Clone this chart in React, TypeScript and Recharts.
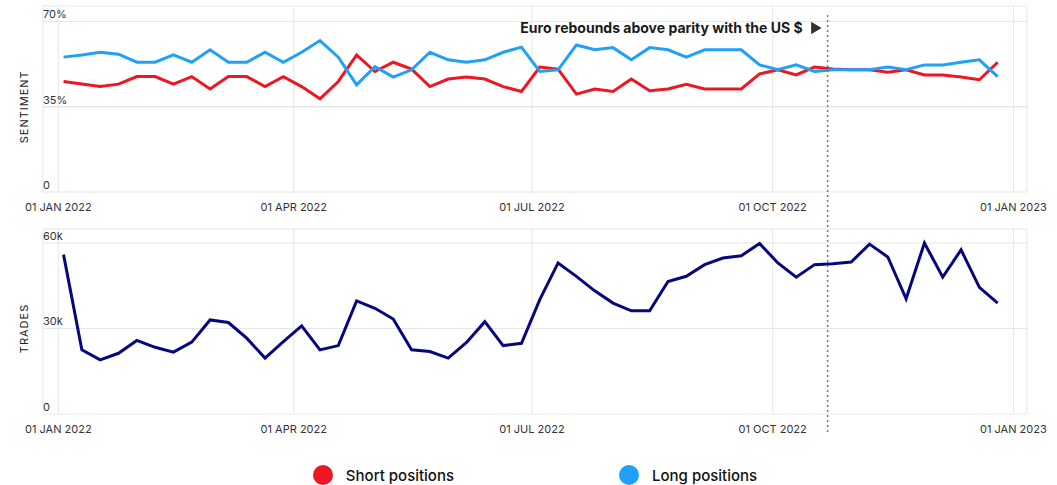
import React from 'react'
import { LineChart, Line, XAxis, YAxis, CartesianGrid, ReferenceLine } from 'recharts'

// weekly observations (Mondays)
const weeks = [
  '2022-01-03', '2022-01-10', '2022-01-17', '2022-01-24', '2022-01-31',
  '2022-02-07', '2022-02-14', '2022-02-21', '2022-02-28',
  '2022-03-07', '2022-03-14', '2022-03-21', '2022-03-28',
  '2022-04-04', '2022-04-11', '2022-04-18', '2022-04-25',
  '2022-05-02', '2022-05-09', '2022-05-16', '2022-05-23', '2022-05-30',
  '2022-06-06', '2022-06-13', '2022-06-20', '2022-06-27',
  '2022-07-04', '2022-07-11', '2022-07-18', '2022-07-25',
  '2022-08-01', '2022-08-08', '2022-08-15', '2022-08-22', '2022-08-29',
  '2022-09-05', '2022-09-12', '2022-09-19', '2022-09-26',
  '2022-10-03', '2022-10-10', '2022-10-17', '2022-10-24', '2022-10-31',
  '2022-11-07', '2022-11-14', '2022-11-21', '2022-11-28',
  '2022-12-05', '2022-12-12', '2022-12-19', '2022-12-26',
]

// % of clients
const shortPositions = [
  45.4, 44.4, 43.3, 44.3, 47.4, 47.4, 44.3, 47.4, 42.3, 47.4, 47.4, 43.3, 47.4,
  43.3, 38.3, 45.4, 56.3, 49.5, 53.3, 50.5, 43.3, 46.4, 47.2, 46.4, 43.3, 41.3,
  51.3, 50.5, 40.2, 42.3, 41.3, 46.4, 41.6, 42.3, 44.2, 42.3, 42.3, 42.3, 48.5,
  50.2, 48.1, 51.3, 50.5, 50.2, 50.2, 49.2, 50.2, 48.1, 48.1, 47.2, 46.1, 53.3,
]
const longPositions = [
  55.4, 56.3, 57.4, 56.6, 53.3, 53.3, 56.3, 53.3, 58.4, 53.3, 53.3, 57.4, 53.3,
  57.4, 62.2, 55.4, 44.0, 51.5, 47.2, 50.2, 57.4, 54.3, 53.3, 54.3, 57.4, 59.5,
  49.5, 50.2, 60.4, 58.4, 59.3, 54.3, 59.3, 58.4, 55.4, 58.4, 58.4, 58.4, 52.2,
  50.2, 52.2, 49.5, 50.2, 50.2, 50.2, 51.3, 50.2, 52.2, 52.2, 53.3, 54.3, 47.4,
]
const trades = [
  55900, 22500, 19000, 21300, 25800, 23400, 21700, 25200, 33000, 32100, 26600,
  19600, 25400, 30900, 22500, 24000, 39700, 37100, 33300, 22500, 21900, 19600,
  25100, 32400, 24000, 24800, 40100, 53000, 48300, 43200, 38900, 36200, 36200,
  46500, 48300, 52400, 54700, 55500, 59800, 53000, 48000, 52400, 52700, 53300,
  59600, 55100, 40400, 60000, 48000, 57600, 44400, 38900,
]

const xTicks = ['2022-01-01', '2022-04-01', '2022-07-01', '2022-10-01', '2023-01-01']
const sentimentTicks = [0, 35, 70]
const tradeTicks = [0, 30000, 60000]
const eventDate = '2022-10-22'
const eventLabel = 'Euro rebounds above parity with the US $'

const series = [
  { key: 'short', name: 'Short positions', color: '#ee1620' },
  { key: 'long', name: 'Long positions', color: '#20a0f7' },
]
const tradesColor = '#06067e'

const MONTHS = ['JAN', 'FEB', 'MAR', 'APR', 'MAY', 'JUN', 'JUL', 'AUG', 'SEP', 'OCT', 'NOV', 'DEC']
const ORIGIN = Date.parse('2022-01-01')
const dayOf = (s: string) => (Date.parse(s) - ORIGIN) / 86400000
const fmtDate = (d: number) => {
  const dt = new Date(ORIGIN + d * 86400000)
  return `${String(dt.getUTCDate()).padStart(2, '0')} ${MONTHS[dt.getUTCMonth()]} ${dt.getUTCFullYear()}`
}

const sentimentData = weeks.map((w, i) => ({ day: dayOf(w), short: shortPositions[i], long: longPositions[i] }))
const tradesData = weeks.map((w, i) => ({ day: dayOf(w), trades: trades[i] }))

const FONT = 'Inter, "Noto Sans", sans-serif'
const GRID = '#e6e6e6'
const xDomain = [-5.85, 370.2]

const AxisTitle = (props: any) => {
  const { viewBox, text } = props
  const cx = viewBox.x - 19
  const cy = viewBox.y
  return (
    <text
      transform={`translate(${cx},${cy}) rotate(-90)`}
      textAnchor="middle"
      dominantBaseline="central"
      fontSize={11}
      letterSpacing={1}
      fill="#222"
      fontFamily={FONT}
    >
      {text}
    </text>
  )
}

const EventAnnotation = (props: any) => {
  const { viewBox } = props
  const x = viewBox.x
  const y = viewBox.y
  return (
    <g>
      <text x={x - 25} y={y + 27} textAnchor="end" fontSize={14} fontWeight={700} fill="#1a1a1a" fontFamily={FONT}>
        {eventLabel}
      </text>
      <path d={`M${x - 16.5},${y + 15.7} L${x - 6},${y + 22} L${x - 16.5},${y + 28.3} Z`} fill="#333" />
    </g>
  )
}

const eventLine = (top: number, bottom: number) => (p: any) => {
  const yA = Math.min(p.y1, p.y2) + top
  const yB = Math.max(p.y1, p.y2) + bottom
  return <line x1={p.x1} x2={p.x2} y1={yA} y2={yB} stroke="#777" strokeWidth={1.5} strokeDasharray="2 3" />
}

const xAxisProps = {
  type: 'number' as const,
  dataKey: 'day',
  domain: xDomain,
  ticks: xTicks.map(dayOf),
  tickFormatter: fmtDate,
  allowDataOverflow: true,
  axisLine: false,
  tickLine: false,
  tickSize: 0,
  tickMargin: 11,
  height: 28,
  tick: { fontSize: 11, fill: '#333', fontFamily: FONT },
}

const yAxisProps = {
  mirror: true,
  allowDataOverflow: true,
  axisLine: false,
  tickLine: false,
  tickSize: 0,
  tickMargin: 0,
  interval: 0 as const,
  dy: -7,
  tick: { fontSize: 11, fill: '#333', fontFamily: FONT, textAnchor: 'start' },
}

export default function App() {
  return (
    <div style={{ position: 'absolute', left: 0, top: 0, width: 1057, height: 485, background: '#fff', fontFamily: FONT }}>
      <div style={{ position: 'absolute', left: 0, top: 0 }}>
        <LineChart width={1057} height={220} data={sentimentData} margin={{ top: 6, right: 30, left: 43, bottom: 0 }}>
          <CartesianGrid stroke={GRID} strokeWidth={1} />
          <XAxis {...xAxisProps} />
          <YAxis
            {...yAxisProps}
            domain={[0, 76.4]}
            ticks={sentimentTicks}
            tickFormatter={(v: number) => (v === 0 ? '0' : `${v}%`)}
          />
          <ReferenceLine y={35} stroke={GRID} label={<AxisTitle text="SENTIMENT" />} />
          {series.map((s) => (
            <Line
              key={s.key}
              type="linear"
              dataKey={s.key}
              name={s.name}
              stroke={s.color}
              strokeWidth={3}
              dot={false}
              isAnimationActive={false}
            />
          ))}
          <ReferenceLine x={dayOf(eventDate)} shape={eventLine(9, 28)} label={<EventAnnotation />} />
        </LineChart>
      </div>
      <div style={{ position: 'absolute', left: 0, top: 220 }}>
        <LineChart width={1057} height={222} data={tradesData} margin={{ top: 9, right: 30, left: 43, bottom: 0 }}>
          <CartesianGrid stroke={GRID} strokeWidth={1} />
          <XAxis {...xAxisProps} />
          <YAxis
            {...yAxisProps}
            domain={[0, 64900]}
            ticks={tradeTicks}
            tickFormatter={(v: number) => (v === 0 ? '0' : `${v / 1000}k`)}
          />
          <ReferenceLine y={30000} stroke={GRID} label={<AxisTitle text="TRADES" />} />
          <Line
            type="linear"
            dataKey="trades"
            name="Trades"
            stroke={tradesColor}
            strokeWidth={3}
            dot={false}
            isAnimationActive={false}
          />
          <ReferenceLine x={dayOf(eventDate)} shape={eventLine(-9, 18)} />
        </LineChart>
      </div>
      <div
        style={{
          position: 'absolute',
          left: 43,
          top: 464,
          width: 984,
          height: 22,
          display: 'flex',
          justifyContent: 'center',
          alignItems: 'center',
          gap: 165,
        }}
      >
        {series.map((s) => (
          <div key={s.key} style={{ display: 'flex', alignItems: 'center' }}>
            <span style={{ width: 20, height: 20, borderRadius: 10, background: s.color, display: 'inline-block', marginRight: 13 }} />
            <span style={{ fontSize: 15, fontWeight: 500, color: '#111' }}>{s.name}</span>
          </div>
        ))}
      </div>
    </div>
  )
}
